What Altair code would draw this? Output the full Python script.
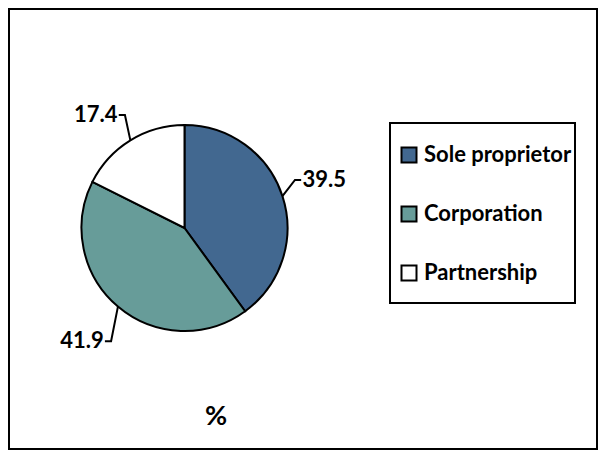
import numpy as np
import pandas as pd
import altair as alt

# ---- data ----
categories = ["Sole proprietor", "Corporation", "Partnership"]
values = [39.5, 41.9, 17.4]
colors = ["#426890", "#679C99", "#FFFFFF"]
center_label = "%"

# ---- layout ----
W, H = 588, 440
CX, CY, R = 175.5, 219.0, 103.0
FONT = "Lato"
# label leader elbow: radial distance (in radii) and angular nudge (deg)
elbow_r = [1.17, 1.31, 1.24]
elbow_dtheta = [-5.5, -7.3, 3.9]
SEG = 0.06   # horizontal leader segment, in radii
GAP = 0.012  # gap between leader and label, in radii

total = sum(values)
cum = np.cumsum([0] + values[:-1])
mid = [(c + v / 2) / total * 2 * np.pi for c, v in zip(cum, values)]

pie_df = pd.DataFrame({"category": categories, "value": values, "order": range(len(values))})

line_rows, text_rows = [], []
for i, (cat, val, th) in enumerate(zip(categories, values, mid)):
    side = 1 if np.sin(th) > 0 else -1
    sx, sy = np.sin(th), np.cos(th)
    te = th + np.radians(elbow_dtheta[i])
    ex, ey = elbow_r[i] * np.sin(te), elbow_r[i] * np.cos(te)
    fx = ex + side * SEG
    for k, (px, py) in enumerate([(sx, sy), (ex, ey), (fx, ey)]):
        line_rows.append({"category": cat, "k": k, "u": px, "v": py})
    text_rows.append({"category": cat, "u": fx + side * GAP, "v": ey,
                      "label": f"{val:.1f}", "side": "right" if side > 0 else "left"})
line_df = pd.DataFrame(line_rows)
text_df = pd.DataFrame(text_rows)

xs = alt.Scale(domain=[(0 - CX) / R, (W - CX) / R], nice=False, zero=False)
ys = alt.Scale(domain=[(CY - H) / R, CY / R], nice=False, zero=False)

pie = alt.Chart(pie_df).mark_arc(radius=R, stroke="black", strokeWidth=2).encode(
    theta=alt.Theta("value:Q", stack=True),
    order=alt.Order("order:Q"),
    color=alt.Color(
        "category:N",
        scale=alt.Scale(domain=categories, range=colors),
        legend=alt.Legend(
            title=None, orient="none", legendX=389, legendY=135,
            symbolType="square", symbolSize=225,
            symbolStrokeColor="black", symbolStrokeWidth=2,
            labelFont=FONT, labelFontWeight="bold", labelFontSize=22,
            labelColor="black", labelOffset=4, labelLimit=0,
            rowPadding=35, padding=0,
        ),
    ),
    x=alt.value(CX),
    y=alt.value(CY),
)

leaders = alt.Chart(line_df).mark_line(color="black", strokeWidth=2).encode(
    x=alt.X("u:Q", scale=xs, axis=None),
    y=alt.Y("v:Q", scale=ys, axis=None),
    detail="category:N",
    order="k:Q",
)

txt_r = alt.Chart(text_df).transform_filter(alt.datum.side == "right").mark_text(
    align="left", baseline="middle", font=FONT, fontWeight="bold", fontSize=22, color="black"
).encode(x=alt.X("u:Q", scale=xs, axis=None), y=alt.Y("v:Q", scale=ys, axis=None), text="label:N")

txt_l = alt.Chart(text_df).transform_filter(alt.datum.side == "left").mark_text(
    align="right", baseline="middle", font=FONT, fontWeight="bold", fontSize=22, color="black"
).encode(x=alt.X("u:Q", scale=xs, axis=None), y=alt.Y("v:Q", scale=ys, axis=None), text="label:N")

one = pd.DataFrame({"t": [center_label]})
legend_box = alt.Chart(one).mark_rect(fill="white", stroke="black", strokeWidth=2).encode(
    x=alt.value(381), x2=alt.value(566), y=alt.value(114), y2=alt.value(294)
)
pct = alt.Chart(one).mark_text(font=FONT, fontWeight="bold", fontSize=27, color="black").encode(
    x=alt.value(207), y=alt.value(408), text="t:N"
)

chart = alt.layer(legend_box, pie, leaders, txt_r, txt_l, pct).properties(
    width=W, height=H, autosize="none",
    padding={"left": 1, "top": 1, "right": 1, "bottom": 1},
).configure_view(stroke="black", strokeWidth=2)

chart.save("out.html", embed_options={"renderer": "svg", "actions": False})
